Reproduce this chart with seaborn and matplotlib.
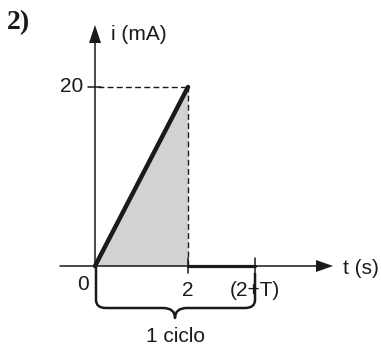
import numpy as np
import matplotlib
matplotlib.use("Agg")
import matplotlib.pyplot as plt
from matplotlib.path import Path
from matplotlib.patches import PathPatch, Polygon
import seaborn as sns

# Current waveform over one cycle
t_ramp = [0, 2]          # s
i_ramp = [0, 20]         # mA
t_off = [2, 3.44]        # s, current is zero until 2+T
i_off = [0, 0]

x_ticks = [0, 2, 3.44]
x_tick_labels = ["0", "2", "(2+T)"]
y_ticks = [20]
y_tick_labels = ["20"]

sns.set_theme(style="white")
plt.rcParams["font.family"] = ["Liberation Sans", "DejaVu Sans"]

W, H = 381, 346
fig = plt.figure(figsize=(W / 100, H / 100), dpi=100)
ax = fig.add_axes([0, 0, 1, 1])

# pixel scale of the drawing: origin at (95, 266), 46.5 px per s, 8.95 px per mA
x0, y0, sx, sy = 95.0, 266.0, 46.5, 8.95
ax.set_xlim(-x0 / sx, (W - x0) / sx)
ax.set_ylim((y0 - H) / sy, y0 / sy)
ax.set_axis_off()


def px(x, y):
    """Convert a pixel position (from top-left) into data units."""
    return ((x - x0) / sx, (y0 - y) / sy)


ink = "#1a1a1a"

# shaded area under the ramp
ax.fill_between(t_ramp, i_ramp, 0, color="#d2d2d2", lw=0, zorder=1)

# guide lines to the peak
dash = (0, (4.2, 2.4))
ax.plot([px(98, 0)[0], t_ramp[1]], [i_ramp[1], i_ramp[1]], color=ink, lw=1.0,
        ls=dash, zorder=2)
ax.plot([t_ramp[1], t_ramp[1]], [0, i_ramp[1]], color=ink, lw=1.0,
        ls=dash, zorder=2)

# axes with arrow heads
xa, _ = px(60, 0)
xb, _ = px(318, 0)
ax.plot([xa, xb], [0, 0], color=ink, lw=1.1, zorder=3)
_, ya = px(0, 42)
ax.plot([0, 0], [0, ya], color=ink, lw=1.1, zorder=3)
ax.add_patch(Polygon([px(333, 266), px(316, 260), px(316, 272)], closed=True,
                     color=ink, lw=0, zorder=3))
ax.add_patch(Polygon([px(95, 25), px(89, 43), px(101, 43)], closed=True,
                     color=ink, lw=0, zorder=3))

# waveform
sns.lineplot(x=t_ramp, y=i_ramp, ax=ax, color=ink, lw=3.2, zorder=4,
             solid_capstyle="round")
sns.lineplot(x=t_off, y=i_off, ax=ax, color=ink, lw=2.3, zorder=4)

# tick marks
for t in x_ticks[1:]:
    ax.plot([t, t], [px(0, 258)[1], px(0, 273)[1]], color=ink, lw=1.1, zorder=4)
for v in y_ticks:
    ax.plot([px(88, 0)[0], px(101, 0)[0]], [v, v], color=ink, lw=1.1, zorder=4)

# tick labels
fs = 15
ax.text(px(89, 0)[0], px(0, 284)[1], x_tick_labels[0], fontsize=fs, ha="right",
        va="center", color=ink)
for t, lab in zip(x_ticks[1:], x_tick_labels[1:]):
    ax.text(t, px(0, 291)[1], lab, fontsize=fs, ha="center", va="center", color=ink)
for v, lab in zip(y_ticks, y_tick_labels):
    ax.text(px(83, 0)[0], v, lab, fontsize=fs, ha="right", va="center", color=ink)

# axis titles
ax.text(*px(111, 34), "i (mA)", fontsize=fs, ha="left", va="center", color=ink)
ax.text(*px(343, 268), "t (s)", fontsize=fs, ha="left", va="center", color=ink)

# brace marking one cycle
tip_x = 175
verts = [(96, 266), (96, 300), (96, 308), (106, 308), (163, 308), (175, 308),
         (tip_x, 318), (175, 308), (187, 308), (245, 308), (255, 308),
         (255, 300), (255, 273)]
codes = [Path.MOVETO, Path.LINETO, Path.CURVE3, Path.CURVE3, Path.LINETO,
         Path.CURVE3, Path.CURVE3, Path.CURVE3, Path.CURVE3, Path.LINETO,
         Path.CURVE3, Path.CURVE3, Path.LINETO]
brace = Path([px(x, y) for x, y in verts], codes)
ax.add_patch(PathPatch(brace, fill=False, edgecolor=ink, lw=1.8, zorder=3,
                       capstyle="butt", joinstyle="round"))
ax.text(*px(176, 336), "1 ciclo", fontsize=fs, ha="center", va="center", color=ink)

# item number
ax.text(*px(7, 23), "2)", fontsize=20, fontweight="bold", ha="left", va="center",
        color=ink, family=["Liberation Serif", "DejaVu Serif"])

fig.savefig("out.png", dpi=100)
